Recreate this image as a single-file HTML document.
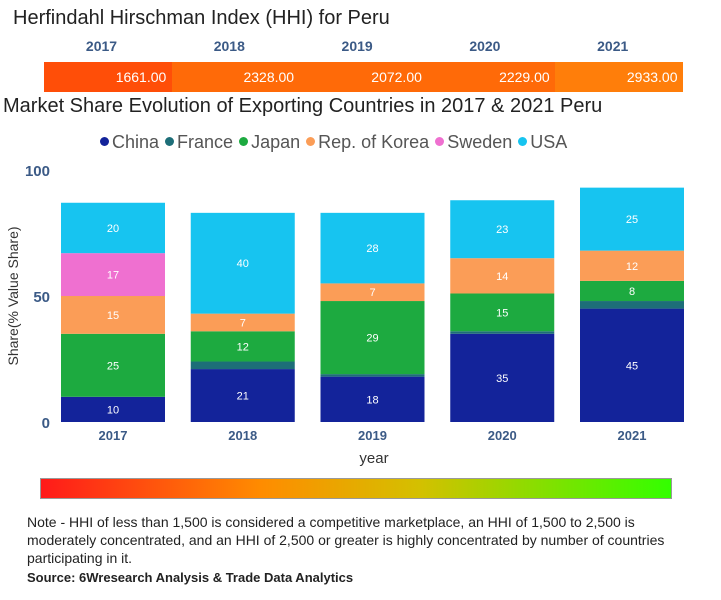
<!DOCTYPE html>
<html><head><meta charset="utf-8"><style>
body{margin:0;width:721px;height:600px;background:#fff;font-family:"Liberation Sans","DejaVu Sans",sans-serif;position:relative;overflow:hidden}
.t{position:absolute;white-space:nowrap}
</style></head><body>
<div class="t" style="left:13px;top:7px;font-size:20px;color:#222">Herfindahl Hirschman Index (HHI) for Peru</div>
<div id="hhi"></div>
<div class="t" style="left:3px;top:95px;font-size:20px;color:#222">Market Share Evolution of Exporting Countries in 2017 &amp; 2021 Peru</div>
<div id="legend" class="t" style="left:100px;top:132px;font-size:18px;color:#555"></div>
<svg id="chart" width="721" height="470" style="position:absolute;left:0;top:0"></svg>
<div style="position:absolute;left:40px;top:478px;width:630px;height:19px;background:linear-gradient(to right,#ff1a1a,#ff8c00 35%,#d4c000 60%,#33ff00);border:1px solid #999"></div>
<div class="t" style="left:27px;top:513px;font-size:14px;line-height:18px;color:#222;white-space:normal;width:675px">Note - HHI of less than 1,500 is considered a competitive marketplace, an HHI of 1,500 to 2,500 is moderately concentrated, and an HHI of 2,500 or greater is highly concentrated by number of countries participating in it.</div>
<div class="t" style="left:27px;top:570px;font-size:13px;font-weight:bold;color:#222">Source: 6Wresearch Analysis &amp; Trade Data Analytics</div>
<script>
const years=["2017","2018","2019","2020","2021"];
const hhiValues=[1661,2328,2072,2229,2933];
const series=["China","France","Japan","Rep. of Korea","Sweden","USA"];
const china=[10,21,18,35,45];
const france=[0,3,1,1,3];
const japan=[25,12,29,15,8];
const korea=[15,7,7,14,12];
const sweden=[17,0,0,0,0];
const usa=[20,40,28,23,25];
const yTicks=[0,50,100];
const colors=["#13239a","#1d6e78","#1daa40","#fb9d57","#ef70d0","#17c4f0"];
const data=[china,france,japan,korea,sweden,usa];
const NS="http://www.w3.org/2000/svg";
const hhi=document.getElementById('hhi');
const hx0=44,hw=639/years.length;
const hcol=v=>v<1800?"#ff4e08":v<2500?"#ff6a08":"#ff7e0a";
hhiValues.forEach((v,i)=>{
 const d=document.createElement('div');
 
 
 d.style.cssText=`position:absolute;left:${hx0+i*hw}px;top:62px;width:${hw+0.5}px;height:30px;background:${hcol(v)};color:#fff;font-size:14px;text-align:right;line-height:30px;box-sizing:border-box;padding-right:6px`;
 d.textContent=v.toFixed(2);hhi.appendChild(d);
 const l=document.createElement('div');
 
 
 l.className='t';
 l.style.cssText=`left:${hx0+i*hw+hw*0.45-40}px;top:38px;width:80px;text-align:center;font-size:14px;font-weight:bold;color:#3b5a86`;
 l.textContent=years[i];hhi.appendChild(l);
});
const lg=document.getElementById('legend');
series.forEach((s,i)=>{
 const sp=document.createElement('span');
 
 
 sp.style.marginRight='6px';
 sp.innerHTML=`<span style="display:inline-block;width:9px;height:9px;border-radius:50%;background:${colors[i]};margin-right:3px;vertical-align:2px"></span>${s}`;
 lg.appendChild(sp);
});
const svg=document.getElementById('chart');
const y0=422,pxu=2.52;
const yS=v=>y0-v*pxu;
const bx0=61,step=129.75,bw=104;
const xS=i=>bx0+i*step;
function el(t,a,txt){const e=document.createElementNS(NS,t);for(const k in a)e.setAttribute(k,a[k]);if(txt!=null)e.textContent=txt;svg.appendChild(e);return e;}
yTicks.forEach(t=>{const e=el('text',{x:50,y:yS(t)+6,'text-anchor':'end','font-size':15,'font-weight':'bold',fill:'#3b5a86'},t);
 
 });
const yt=el('text',{x:18,y:296,transform:'rotate(-90 18 296)','text-anchor':'middle','font-size':14,fill:'#333'},'Share(% Value Share)');


years.forEach((yr,i)=>{
 let acc=0;
 data.forEach((arr,s)=>{
  const v=arr[i];if(v<=0)return;
  const r=el('rect',{x:xS(i),y:yS(acc+v),width:bw,height:v*pxu,fill:colors[s]});
  
  
  if(v>=5){const t=el('text',{x:xS(i)+bw/2,y:yS(acc+v/2)+4,'text-anchor':'middle','font-size':11,fill:'#fff'},v);
   
   }
  acc+=v;
 });
 const xl=el('text',{x:xS(i)+bw/2,y:440,'text-anchor':'middle','font-size':13,'font-weight':'bold',fill:'#3b5a86'},yr);
 
 
});
const xt=el('text',{x:374,y:463,'text-anchor':'middle','font-size':15,fill:'#333'},'year');


</script>
</body></html>
